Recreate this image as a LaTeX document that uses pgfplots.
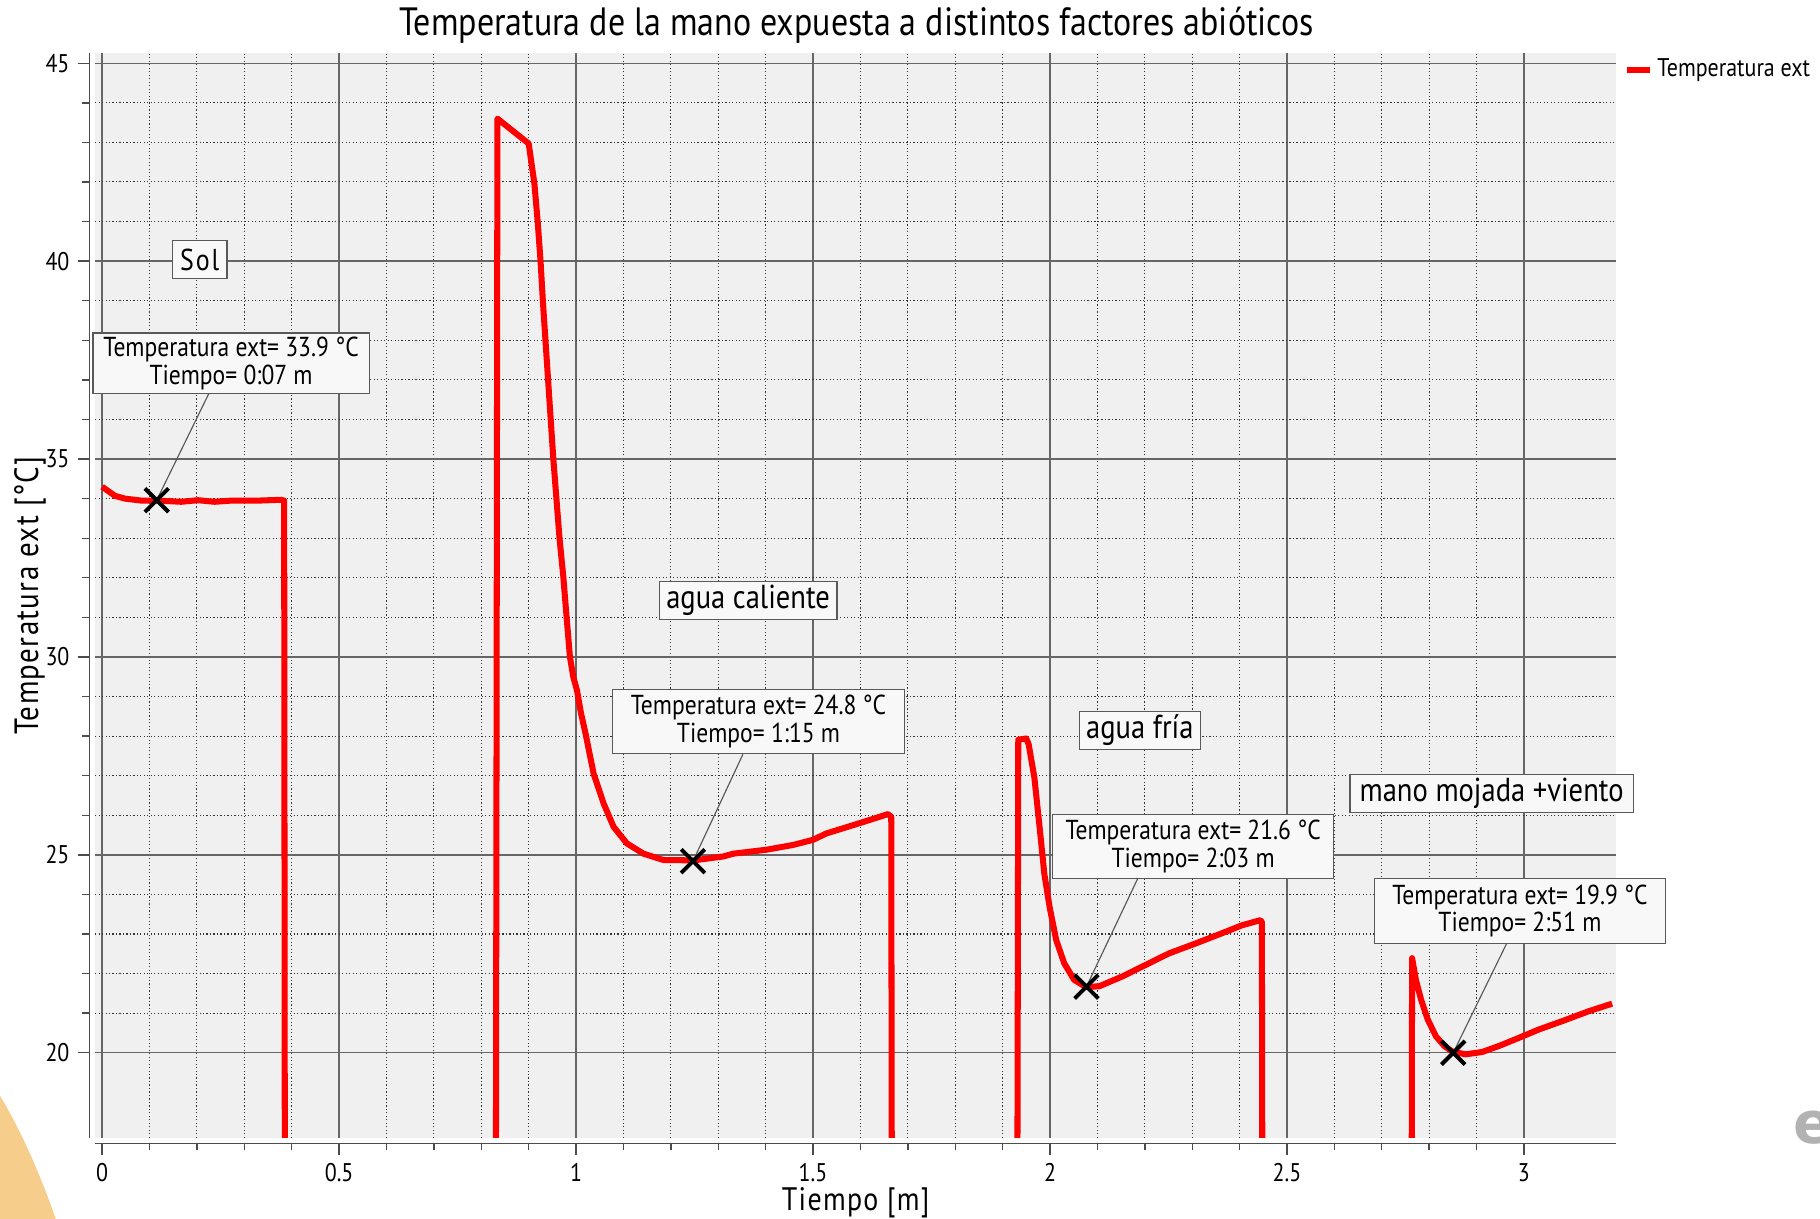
\documentclass[border=0pt]{standalone}
\usepackage{fontspec}
\setmainfont[FakeStretch=0.86]{PT Sans}
\newfontfamily\efont{DejaVu Sans}
\usepackage{pgfplots}
\pgfplotsset{compat=1.18}
\definecolor{bgc}{HTML}{F0F0F0}
\definecolor{boxc}{HTML}{F8F8F8}
\definecolor{blob}{RGB}{246,205,139}
\tikzset{lbox/.style={draw=black!65, fill=boxc, line width=0.5pt, inner sep=0pt, align=center, font=\fontsize{11.8}{12}\selectfont},
 tbox/.style={lbox, minimum height=16.5pt, font=\fontsize{14.3}{14.3}\selectfont}}
\begin{document}
\begin{tikzpicture}
\useasboundingbox (0,0) rectangle (784pt,525pt);
\fill[blob] (0,53pt) .. controls (9pt,38pt) and (17pt,20pt) .. (24pt,0) -- (0,0) -- cycle;
\node[anchor=base west, inner sep=0, text=black!30, font=\efont\bfseries\fontsize{25}{25}\selectfont] at (772.5pt,32.5pt) {e};
\node[font=\fontsize{17}{18}\selectfont, inner sep=0pt] at (369pt,514pt) {Temperatura de la mano expuesta a distintos factores abióticos};
\begin{axis}[
 at={(40.95pt,34.85pt)}, anchor=south west,
 x=204.15pt, y=17.05pt,
 xmin=-0.015, xmax=3.195, ymin=17.85, ymax=45.25,
 clip mode=individual,
 axis background/.style={fill=bgc},
 axis x line*=bottom, axis y line*=left,
 axis x line shift=2.4pt, axis y line shift=2.5pt,
 axis line style={black!70, line width=0.6pt, -},
 xtick={0,0.5,...,3}, ytick={20,25,...,45},
 minor x tick num=4, minor y tick num=4,
 tick align=outside,
 major tick length=5pt, minor tick length=3pt,
 tick style={black!70, line width=0.6pt},
 grid=both,
 major grid style={black!60, line width=0.6pt},
 minor grid style={black!80, line width=0.45pt, dash pattern=on 0.5pt off 1pt},
 /pgf/number format/assume math mode=true,
 ticklabel style={font=\fontsize{11}{11}\selectfont},
 xlabel={Tiempo [m]}, ylabel={Temperatura ext [°C]},
 xlabel style={font=\fontsize{14}{14}\selectfont\addfontfeature{LetterSpace=4}, at={(axis description cs:0.5,0)}, anchor=center, yshift=-28pt},
 ylabel style={font=\fontsize{14.5}{15}\selectfont\addfontfeature{LetterSpace=4}, at={(axis description cs:0,0.5)}, anchor=center, yshift=28pt},
 legend style={draw=none, fill=none, at={(axis description cs:1,0.985)}, anchor=west, xshift=3pt, inner sep=0pt, font=\fontsize{11}{11}\selectfont},
 legend cell align=left,
 legend image code/.code={\draw[red, line width=2.5pt] (0pt,0pt) -- (10pt,0pt);},
]
\addplot[red, line width=2.6pt, line join=round] coordinates {
(0,34.30) (0.027,34.07) (0.048,34.00) (0.083,33.95) (0.118,33.95) (0.167,33.92) (0.202,33.96) (0.237,33.92) (0.272,33.95) (0.330,33.95) (0.377,33.97) (0.384,33.95) (0.386,10)
(0.830,10) (0.834,43.60) (0.900,42.97) (0.912,41.96) (0.919,40.99) (0.925,40.0) (0.930,38.97) (0.938,37.52) (0.952,35.0) (0.965,33.0) (0.973,32.03) (0.980,31.0) (0.987,30.0) (0.994,29.5) (1.002,29.15) (1.010,28.6) (1.020,28.06) (1.037,27.05) (1.058,26.30) (1.079,25.71) (1.107,25.29) (1.142,25.03) (1.184,24.87) (1.248,24.86) (1.311,24.96) (1.332,25.03) (1.402,25.13) (1.458,25.25) (1.500,25.38) (1.528,25.54) (1.563,25.67) (1.598,25.80) (1.640,25.96) (1.658,26.03) (1.665,25.96) (1.667,10)
(1.930,10) (1.933,27.91) (1.950,27.94) (1.955,27.79) (1.967,26.95) (1.978,25.70) (1.988,24.52) (1.999,23.69) (2.013,22.85) (2.030,22.26) (2.051,21.84) (2.076,21.66) (2.104,21.68) (2.153,21.93) (2.202,22.22) (2.251,22.51) (2.307,22.76) (2.363,23.02) (2.405,23.22) (2.444,23.35) (2.447,23.30) (2.449,10)
(2.762,10) (2.764,22.39) (2.772,21.84) (2.783,21.34) (2.797,20.84) (2.814,20.42) (2.832,20.17) (2.849,20.03) (2.877,19.96) (2.912,20.02) (2.947,20.17) (2.982,20.34) (3.032,20.59) (3.081,20.80) (3.137,21.05) (3.186,21.24)
};
\addlegendentry{Temperatura ext}
\addplot[black!65, line width=0.5pt, forget plot] coordinates {(0.2253,36.66) (0.1151,33.96)};
\addplot[black!65, line width=0.5pt, forget plot] coordinates {(1.352,27.54) (1.2466,24.84)};
\addplot[black!65, line width=0.5pt, forget plot] coordinates {(2.185,24.40) (2.0769,21.67)};
\addplot[black!65, line width=0.5pt, forget plot] coordinates {(2.9635,22.76) (2.8508,20.0)};
\addplot[only marks, mark=x, mark size=7.2pt, mark options={black, line width=1.7pt}, forget plot] coordinates {(0.1151,33.96) (1.2466,24.84) (2.0769,21.67) (2.8508,20.0)};
\node[lbox, minimum width=23.5pt, minimum height=16.5pt, font=\fontsize{13}{13}\selectfont\addfontfeature{LetterSpace=6}] at (axis cs:0.2057,40.04) {Sol};
\node[lbox, minimum width=119pt, minimum height=26pt] at (axis cs:0.272,37.42) {Temperatura ext= 33.9 °C\\Tiempo= 0:07 m};
\node[tbox, minimum width=76.5pt] at (axis cs:1.363,31.42) {agua caliente};
\node[lbox, minimum width=125.5pt, minimum height=27.5pt] at (axis cs:1.385,28.37) {Temperatura ext= 24.8 °C\\Tiempo= 1:15 m};
\node[tbox, minimum width=52pt] at (axis cs:2.1896,28.14) {agua fría};
\node[lbox, minimum width=121pt, minimum height=27.5pt] at (axis cs:2.302,25.21) {Temperatura ext= 21.6 °C\\Tiempo= 2:03 m};
\node[tbox, minimum width=122pt] at (axis cs:2.9317,26.55) {mano mojada +viento};
\node[lbox, minimum width=125.5pt, minimum height=28pt] at (axis cs:2.9917,23.58) {Temperatura ext= 19.9 °C\\Tiempo= 2:51 m};
\end{axis}
\end{tikzpicture}
\end{document}
